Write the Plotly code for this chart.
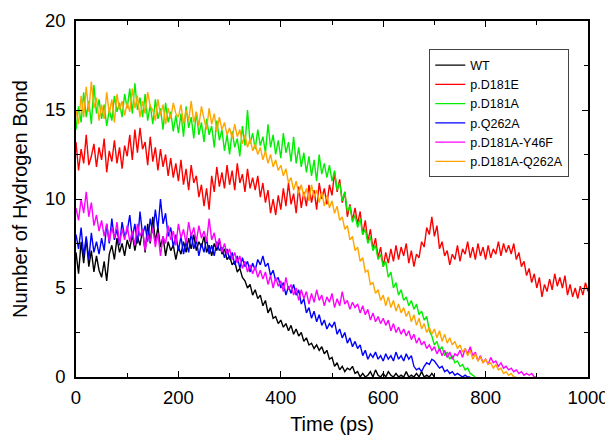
import plotly.graph_objects as go

STEP_PS = 5

wt = [7.0, 5.8, 7.6, 6.4, 7.8, 6.2, 7.1, 5.9, 6.8, 6.0,
      5.6, 6.5, 5.4, 6.9, 7.4, 6.6, 7.8, 7.0, 7.5, 6.8,
      7.7, 7.2, 8.0, 7.1, 7.9, 7.4, 8.3, 7.0, 8.6, 7.5,
      9.0, 7.6, 8.4, 7.3, 7.9, 6.8, 7.6, 7.1, 7.4, 6.6,
      7.3, 6.9, 7.6, 7.0, 7.8, 7.2, 8.0, 7.1, 7.6, 7.3,
      7.9, 7.0, 7.4, 6.8, 7.5, 7.1, 7.7, 6.9, 7.2, 6.6,
      6.8, 6.3, 6.5, 5.9, 6.1, 5.6, 5.4, 5.0, 5.2, 4.6,
      4.9, 4.4, 4.6, 4.0, 4.3, 3.6, 3.9, 3.3, 3.4, 3.0,
      3.2, 2.8, 3.0, 2.6, 2.9, 2.4, 2.7, 2.3, 2.5, 2.0,
      2.2, 1.8, 1.9, 1.6, 1.8, 1.5, 1.7, 1.3, 1.5, 1.0,
      1.1, 0.6, 0.8, 0.4, 0.6, 0.3, 0.5, 0.4, 0.6, 0.2,
      0.3, 0.0, 0.2, 0.0, 0.1, 0.3, 0.0, 0.4, 0.1, 0.0,
      0.2, 0.0, 0.3, 0.1, 0.0, 0.2, 0.0, 0.1, 0.0, 0.3,
      0.0, 0.1, 0.0, 0.2, 0.0, 0.3, 0.0, 0.1, 0.0, 0.2,
      0.0]

d181e = [13.2, 11.6, 12.8, 12.0, 13.6, 11.9, 12.4, 13.1, 11.8, 12.9,
         12.2, 13.4, 11.5, 12.7, 12.1, 13.3, 12.0, 12.9, 11.7, 13.0,
         12.4, 13.6, 12.2, 13.9, 12.6, 14.0, 12.8, 13.2, 11.9, 13.5,
         12.1, 12.9, 11.6, 12.8, 11.8, 12.5, 11.3, 12.3, 11.2, 12.0,
         11.0, 12.2, 10.8, 11.7, 10.5, 11.9, 10.9, 11.3, 10.1, 10.8,
         9.6, 10.6, 9.4, 11.3, 10.4, 11.8, 10.7, 11.5, 10.6, 11.9,
         10.8, 11.6, 10.5, 12.0, 10.9, 11.4, 10.4, 11.7, 10.6, 11.2,
         10.5, 11.3, 10.1, 10.9, 9.8, 10.5, 9.2, 10.0, 9.1, 10.2,
         9.4, 10.6, 9.6, 10.9, 9.7, 10.3, 9.2, 10.7, 9.5, 10.4,
         9.6, 10.8, 9.8, 10.5, 9.4, 10.9, 10.0, 10.6, 9.7, 10.8,
         10.2, 11.5, 10.4, 11.1, 9.8, 10.4, 9.0, 9.7, 8.8, 9.5,
         8.6, 9.3, 8.0, 8.8, 7.6, 8.3, 7.2, 7.8, 6.7, 7.3,
         6.2, 7.0, 6.4, 7.2, 6.5, 7.4, 6.6, 7.3, 6.8, 7.5,
         6.4, 7.1, 6.2, 6.9, 6.7, 7.6, 7.3, 8.4, 8.0, 9.0,
         7.9, 8.5, 7.2, 7.6, 6.8, 7.1, 6.3, 6.9, 6.6, 7.4,
         6.5, 7.2, 6.9, 7.6, 6.7, 7.3, 6.6, 7.5, 6.8, 7.3,
         6.6, 7.4, 6.7, 7.2, 6.9, 7.6, 6.8, 7.5, 7.0, 7.4,
         6.9, 7.5, 6.6, 7.0, 6.2, 6.5, 5.7, 6.1, 5.3, 5.8,
         5.0, 5.6, 4.5, 5.2, 4.8, 5.5, 4.9, 5.8, 5.1, 5.6,
         5.0, 5.7, 4.6, 5.2, 4.5, 5.0, 4.4, 5.1, 4.6, 5.3,
         4.8]

d181a = [13.9, 15.2, 14.3, 16.0, 14.6, 15.5, 14.2, 16.4, 14.8, 15.6,
         14.5, 15.3, 14.1, 15.0, 14.4, 15.8, 14.9, 15.4, 14.6, 15.9,
         15.1, 16.2, 14.8, 16.5, 15.0, 15.7, 14.6, 15.9, 14.4, 15.3,
         14.2, 15.6, 14.5, 15.1, 13.9, 15.4, 14.3, 14.9, 13.8, 14.7,
         13.7, 14.8, 13.5, 15.2, 14.0, 14.6, 13.4, 14.9, 13.6, 14.3,
         13.2, 14.5, 13.6, 14.1, 12.9, 14.4, 13.3, 13.9, 12.7, 13.6,
         12.5, 13.8, 12.9, 13.4, 12.4, 14.1, 13.0, 15.0, 13.1, 13.7,
         12.8, 13.9, 13.0, 13.5, 12.6, 14.2, 12.9, 13.6, 12.5, 13.3,
         12.3, 13.7, 12.6, 13.2, 12.1, 13.5, 12.0, 12.9, 11.8, 12.6,
         11.5, 12.4, 11.3, 12.2, 11.0, 12.5, 11.4, 12.0, 11.2, 11.9,
         11.0, 11.6, 10.5, 10.9, 9.9, 10.4, 9.3, 9.6, 8.7, 9.1,
         8.4, 8.9, 8.0, 8.3, 7.5, 7.9, 7.1, 7.4, 6.6, 6.9,
         6.2, 6.5, 5.6, 5.9, 5.0, 5.3, 4.6, 4.9, 4.3, 4.5,
         4.0, 4.3, 3.8, 4.1, 3.5, 3.7, 3.2, 3.4, 2.6, 2.3,
         1.8, 2.0, 1.5, 1.7, 1.2, 1.4, 1.0, 1.2, 0.8, 0.9,
         0.6, 0.7, 0.4, 0.5, 0.2, 0.1, 0.0]

q262a = [8.0, 7.2, 8.4, 6.8, 7.9, 6.6, 8.1, 7.0, 7.6, 6.9,
         7.8, 7.1, 8.6, 7.5, 8.9, 7.7, 8.3, 7.4, 8.7, 7.9,
         8.2, 9.1, 7.8, 8.6, 7.5, 9.3, 8.0, 8.5, 7.6, 8.9,
         8.1, 9.4, 8.3, 10.0, 8.6, 9.2, 7.9, 8.4, 7.3, 8.0,
         7.1, 7.9, 6.9, 7.6, 7.0, 8.1, 7.2, 7.7, 6.8, 7.5,
         7.0, 7.8, 6.9, 7.4, 6.8, 7.6, 7.1, 7.3, 6.7, 7.2,
         6.6, 7.0, 6.3, 6.8, 6.1, 6.7, 6.2, 6.5, 5.9, 6.4,
         6.0, 6.6, 6.3, 6.8, 6.2, 6.4, 5.7, 6.0, 5.4, 5.6,
         5.0, 5.3, 4.6, 5.1, 4.7, 5.2, 4.6, 4.9, 4.1, 4.4,
         3.6, 3.9, 3.3, 3.7, 3.1, 3.5, 2.9, 3.2, 2.7, 3.0,
         2.8, 3.1, 2.4, 2.7, 2.2, 2.5, 1.9, 2.2, 1.7, 2.0,
         1.6, 1.8, 1.2, 1.5, 1.0, 1.3, 1.1, 1.4, 1.0, 1.2,
         0.9, 1.3, 1.0, 1.2, 0.9, 1.4, 1.0, 1.2, 0.9, 1.3,
         1.0, 1.2, 0.6, 0.4, 0.5, 0.3, 0.6, 0.8, 0.7, 1.0,
         0.9, 0.7, 0.5, 0.6, 0.3, 0.4, 0.2, 0.3, 0.1, 0.2,
         0.1, 0.0, 0.1, 0.0, 0.0]

y46f = [9.5, 8.8, 10.0, 9.2, 10.4, 9.0, 9.8, 8.5, 9.1, 8.2,
        8.8, 7.9, 8.6, 7.6, 8.4, 7.8, 8.7, 7.5, 8.3, 7.7,
        8.5, 7.6, 8.2, 7.4, 8.6, 7.9, 8.3, 7.1, 8.0, 7.6,
        8.4, 7.3, 8.1, 6.8, 7.9, 7.5, 8.5, 7.7, 8.2, 7.4,
        8.6, 7.8, 8.3, 7.5, 8.7, 7.9, 8.4, 7.6, 8.5, 7.8,
        8.2, 7.6, 8.9, 7.7, 8.1, 7.3, 7.8, 7.0, 7.5, 6.9,
        7.2, 6.6, 7.0, 6.4, 6.8, 6.1, 6.5, 5.9, 6.3, 5.8,
        6.2, 5.6, 6.0, 5.5, 5.9, 5.2, 5.7, 5.0, 5.6, 5.1,
        5.4, 4.8, 5.6, 4.9, 5.2, 4.6, 5.0, 4.3, 4.9, 4.4,
        4.8, 4.1, 4.7, 4.2, 4.9, 4.3, 4.6, 4.0, 4.5, 4.2,
        4.7, 3.9, 4.4, 4.0, 4.8, 4.1, 4.3, 3.8, 4.2, 3.9,
        4.1, 3.6, 4.0, 3.5, 3.8, 3.2, 3.6, 3.1, 3.4, 3.0,
        3.3, 2.9, 3.2, 2.6, 3.0, 2.5, 2.8, 2.4, 2.7, 2.3,
        2.6, 2.1, 2.4, 1.9, 2.2, 1.8, 2.0, 1.6, 1.8, 1.5,
        1.7, 1.3, 1.6, 1.2, 1.5, 1.1, 1.4, 1.0, 1.3, 1.2,
        1.5, 1.1, 1.6, 1.3, 1.7, 1.2, 1.4, 0.9, 1.2, 0.8,
        1.0, 0.7, 1.1, 0.8, 0.9, 0.6, 0.8, 0.5, 0.6, 0.4,
        0.5, 0.3, 0.4, 0.2, 0.3, 0.1, 0.2, 0.1, 0.2, 0.0,
        0.0]

d181a_q262a = [15.0, 14.2, 15.8, 14.6, 16.3, 14.9, 16.6, 15.1, 15.7, 14.4,
               15.3, 14.5, 16.0, 14.8, 15.6, 14.3, 15.9, 15.0, 15.5, 14.7,
               15.4, 14.9, 16.2, 15.1, 15.8, 14.6, 15.5, 14.8, 16.0, 15.2,
               15.0, 14.4, 15.6, 14.7, 15.3, 14.2, 15.1, 14.5, 15.4, 14.8,
               14.6, 15.3, 14.2, 15.0, 14.4, 15.5, 14.3, 14.9, 14.1, 15.2,
               14.5, 13.9, 15.1, 14.2, 14.8, 13.8, 14.6, 13.9, 14.3, 13.6,
               14.0, 13.4, 14.2, 13.5, 13.9, 13.1, 13.6, 12.9, 13.4, 12.7,
               13.1, 12.5, 12.9, 12.2, 12.7, 12.0, 12.5, 11.8, 12.2, 11.6,
               11.9, 11.3, 11.7, 10.9, 11.2, 10.5, 11.0, 10.3, 10.8, 10.1,
               10.6, 9.9, 10.8, 10.1, 10.5, 9.8, 10.4, 9.6, 10.2, 9.5,
               9.9, 9.2, 9.6, 8.8, 9.0, 8.3, 8.5, 7.7, 7.9, 7.1,
               7.3, 6.5, 6.7, 5.9, 6.0, 5.2, 5.3, 4.7, 4.9, 4.3,
               4.6, 4.0, 4.5, 3.9, 4.3, 3.7, 4.1, 3.6, 3.9, 3.4,
               3.7, 3.1, 3.5, 2.9, 3.3, 2.7, 3.0, 2.5, 2.8, 2.4,
               2.7, 2.2, 2.6, 2.0, 2.4, 1.9, 2.2, 1.8, 2.0, 1.6,
               1.8, 1.4, 1.6, 1.2, 1.5, 1.0, 1.3, 0.9, 1.1, 0.8,
               1.0, 0.7, 0.8, 0.5, 0.7, 0.4, 0.5, 0.2, 0.3, 0.1,
               0.2, 0.0, 0.0]

series_names = ["WT", "p.D181E", "p.D181A", "p.Q262A", "p.D181A-Y46F", "p.D181A-Q262A"]
series_values = [wt, d181e, d181a, q262a, y46f, d181a_q262a]
series_colors = ["#000000", "#ff0000", "#00ee00", "#0000ff", "#ff00ff", "#ffa500"]

x_tickvals = [0, 200, 400, 600, 800, 1000]
y_tickvals = [0, 5, 10, 15, 20]

FONT = "Liberation Sans, Arial, sans-serif"

fig = go.Figure()
for name, vals, col in zip(series_names, series_values, series_colors):
    t = [i * STEP_PS for i in range(len(vals))]
    fig.add_trace(go.Scatter(x=t, y=vals, mode="lines", name=name,
                             line=dict(color=col, width=1.4)))

axis_common = dict(showline=True, linecolor="black", linewidth=1.5, mirror="ticks",
                   ticks="inside", ticklen=6, tickwidth=1.2, tickcolor="black",
                   showgrid=False, zeroline=False, automargin=False,
                   tickfont=dict(family=FONT, size=18.5, color="black"))

fig.update_xaxes(range=[0, 1000], tickvals=x_tickvals, ticklabelstandoff=3,
                 minor=dict(dtick=100, ticks="inside", ticklen=4, tickcolor="black", tickwidth=1),
                 title=dict(text="Time (ps)", standoff=10,
                            font=dict(family=FONT, size=20, color="black")),
                 **axis_common)
fig.update_yaxes(range=[0, 20], tickvals=y_tickvals, ticklabelstandoff=5,
                 minor=dict(dtick=2.5, ticks="inside", ticklen=4, tickcolor="black", tickwidth=1),
                 title=dict(text="Number of Hydrogen Bond", standoff=12,
                            font=dict(family=FONT, size=20, color="black")),
                 **axis_common)

fig.update_layout(
    width=613, height=427,
    margin=dict(l=68, r=33, t=13, b=58),
    paper_bgcolor="white", plot_bgcolor="white",
    legend=dict(x=0.69, y=0.92, xanchor="left", yanchor="top",
                bordercolor="#444444", borderwidth=1, bgcolor="white",
                font=dict(family=FONT, size=12.5, color="black"),
                tracegroupgap=0, itemwidth=30),
    showlegend=True,
)

fig.write_html("out.html")
